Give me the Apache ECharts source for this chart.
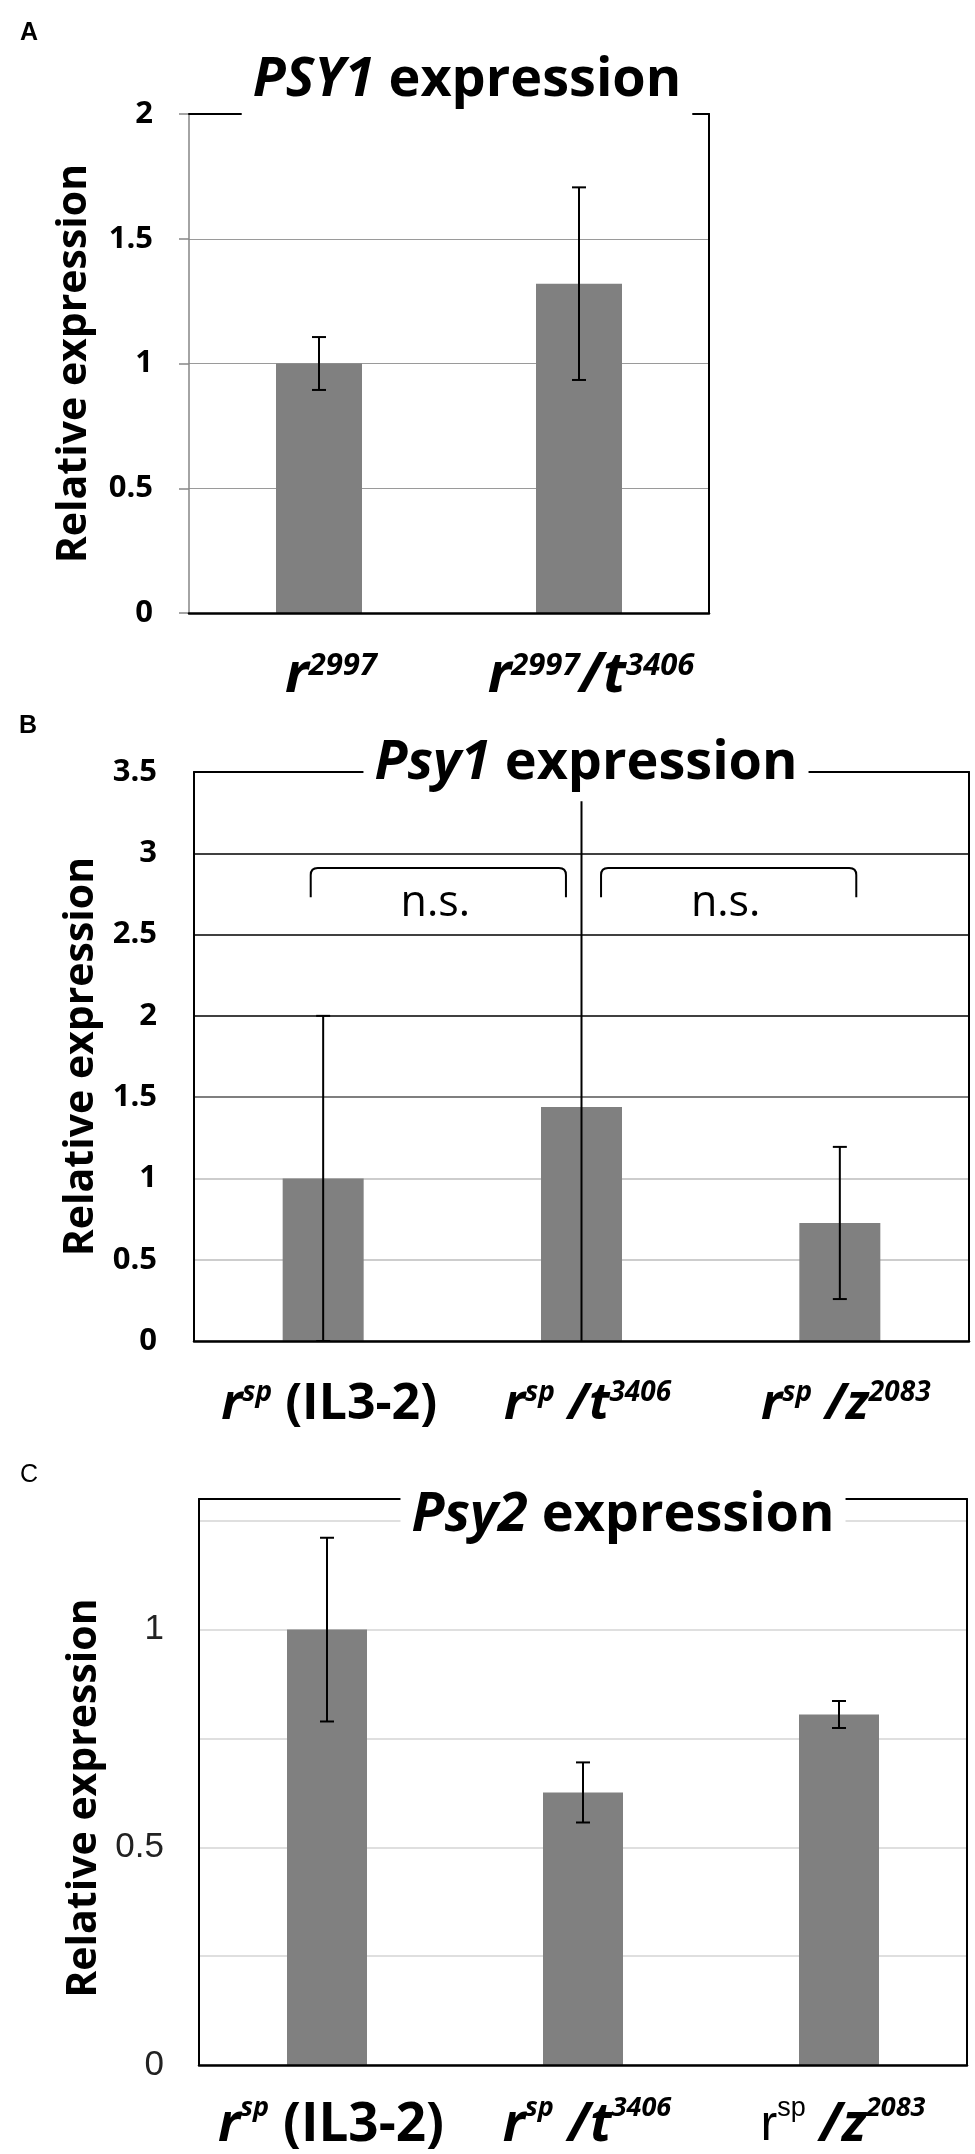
<!DOCTYPE html>
<html><head><meta charset="utf-8">
<script src="https://cdn.jsdelivr.net/npm/echarts@6/dist/echarts.min.js"></script>
<style>html,body{margin:0;padding:0;background:#fff}#c{width:975px;height:2154px}</style>
</head><body><div id="c"></div>
<script>
// ---------- Panel A data ----------
const catsA = ['r2997', 'r2997/t3406'];
const labelsA = ['{m|r}{s|2997}', '{m|r}{s|2997}{m|/t}{s|3406}'];
const meansA = [1.0, 1.32];
const errA = [0.106, 0.386];
const ticksA = [0, 0.5, 1, 1.5, 2];

// ---------- Panel B data ----------
const catsB = ['rsp (IL3-2)', 'rsp /t3406', 'rsp /z2083'];
const labelsB = ['{m|r}{s|sp}{n| (IL3-2)}', '{m|r}{s|sp}{m| /t}{s|3406}', '{m|r}{s|sp}{m| /z}{s|2083}'];
const meansB = [1.0, 1.44, 0.726];
const errB = [1.0, 1.88, 0.468];
const ticksB = [0, 0.5, 1, 1.5, 2, 2.5, 3, 3.5];
const sigPairsB = [[0, 1], [1, 2]];
const sigTopB = 2.91;
const sigLegB = 2.73;
const sigTextValB = 2.69;
const sigTextB = 'n.s.';

// ---------- Panel C data ----------
const catsC = ['rsp (IL3-2)', 'rsp /t3406', 'rsp /z2083'];
const labelsC = ['{m|r}{s|sp}{n| (IL3-2)}', '{m|r}{s|sp}{m| /t}{s|3406}', '{r|r}{rs|sp}{m| /z}{s|2083}'];
const meansC = [1.0, 0.626, 0.805];
const errC = [0.211, 0.069, 0.031];
const ticksC = [0, 0.25, 0.5, 0.75, 1, 1.25];
const labeledTicksC = [0, 0.5, 1];
const maxC = 1.3;

const yTitle = 'Relative expression';

// ---------- helpers ----------
const OS = 'Open Sans';
function richSet(F, S, L) {
  return {
    m: {fontFamily: OS, fontWeight: 'bold', fontStyle: 'italic', fontSize: F, lineHeight: L, color: '#000'},
    n: {fontFamily: OS, fontWeight: 'bold', fontStyle: 'normal', fontSize: F, lineHeight: L, color: '#000'},
    s: {fontFamily: OS, fontWeight: 'bold', fontStyle: 'italic', fontSize: S, lineHeight: S, verticalAlign: 'top', color: '#000'},
    r: {fontFamily: 'Liberation Sans', fontWeight: 'normal', fontStyle: 'normal', fontSize: F * 0.95, lineHeight: L, color: '#000'},
    rs: {fontFamily: 'Liberation Sans', fontWeight: 'normal', fontStyle: 'normal', fontSize: S, lineHeight: S, verticalAlign: 'top', color: '#000'}
  };
}
function errSeries(idx, means, errs, axisMin) {
  return {
    type: 'custom', xAxisIndex: idx, yAxisIndex: idx, z: 4,
    encode: {x: 0, y: [1, 2]},
    data: means.map((m, i) => [i, m - errs[i], m + errs[i]]),
    renderItem(params, api) {
      const i = api.value(0);
      let lo = api.value(1);
      const hi = api.value(2);
      const clipped = lo < axisMin - 1e-9;
      if (clipped) lo = axisMin;
      const pHi = api.coord([i, hi]);
      const pLo = api.coord([i, lo]);
      const st = {stroke: '#000', lineWidth: 2};
      const ch = [{type: 'line', shape: {x1: pHi[0], y1: pHi[1], x2: pLo[0], y2: pLo[1]}, style: st}];
      if (!clipped) {
        const w = 7;
        ch.push({type: 'line', shape: {x1: pHi[0] - w, y1: pHi[1], x2: pHi[0] + w, y2: pHi[1]}, style: st});
        ch.push({type: 'line', shape: {x1: pLo[0] - w, y1: pLo[1], x2: pLo[0] + w, y2: pLo[1]}, style: st});
      }
      return {type: 'group', children: ch};
    }
  };
}
function titleText(x, y, ital, rest) {
  return {
    type: 'text', x: x, y: y, z: 100,
    style: {
      text: '{i|' + ital + '}{b|' + rest + '}',
      rich: {
        i: {fontFamily: OS, fontWeight: 'bold', fontStyle: 'italic', fontSize: 54, fill: '#000'},
        b: {fontFamily: OS, fontWeight: 'bold', fontStyle: 'normal', fontSize: 54, fill: '#000'}
      },
      fontFamily: OS, fontWeight: 'bold', fontSize: 54,
      align: 'center', verticalAlign: 'middle',
      backgroundColor: '#fff', padding: [4, 11, 8, 11]
    }
  };
}
function letter(x, y, t, bold) {
  return {type: 'text', x: x, y: y, z: 100,
    style: {text: t, fontFamily: 'Liberation Sans', fontWeight: bold ? 'bold' : 'normal', fontSize: 25, fill: '#000', align: 'center', verticalAlign: 'middle'}};
}
function frameX(g, cats) {
  return {gridIndex: g, type: 'category', data: cats, position: 'top', z: 5,
    axisLine: {onZero: false, lineStyle: {color: '#000', width: 2}}, axisTick: {show: false}, axisLabel: {show: false}};
}
function frameY(g, lo, hi) {
  return {gridIndex: g, type: 'value', min: lo, max: hi, position: 'right', z: 5,
    axisLine: {show: true, onZero: false, lineStyle: {color: '#000', width: 2}}, axisTick: {show: false},
    axisLabel: {show: false}, splitLine: {show: false}};
}
const tickLabelBold = {fontFamily: OS, fontWeight: 'bold', fontSize: 31, color: '#000'};
const nameStyle = {fontFamily: OS, fontWeight: 'bold', fontSize: 41, color: '#000'};

const chart = echarts.init(document.getElementById('c'), null, {renderer: 'canvas'});
const option = {
  animation: false,
  backgroundColor: '#fff',
  grid: [
    {left: 189, top: 114, width: 520, height: 499, outerBoundsMode: 'none'},
    {left: 194, top: 772, width: 775, height: 569, outerBoundsMode: 'none'},
    {left: 199, top: 1499, width: 768, height: 566, outerBoundsMode: 'none'}
  ],
  xAxis: [
    {gridIndex: 0, type: 'category', data: catsA, z: 5,
      axisLine: {onZero: false, lineStyle: {color: '#000', width: 2.5}}, axisTick: {show: false},
      axisLabel: {margin: 38, interval: 0, padding: [0, 0, 0, 24], formatter: (v, i) => labelsA[i], rich: richSet(56, 31, 51)}},
    {gridIndex: 1, type: 'category', data: catsB, z: 5,
      axisLine: {onZero: false, lineStyle: {color: '#000', width: 2.5}}, axisTick: {show: false},
      axisLabel: {margin: 38, interval: 0, padding: [0, 0, 0, 12], formatter: (v, i) => labelsB[i], rich: richSet(50, 28, 52)}},
    {gridIndex: 2, type: 'category', data: catsC, z: 5,
      axisLine: {onZero: false, lineStyle: {color: '#000', width: 2.5}}, axisTick: {show: false},
      axisLabel: {margin: 30, interval: 0, padding: [0, 0, 0, 8], formatter: (v, i) => labelsC[i], rich: richSet(53, 27, 62)}},
    frameX(0, catsA), frameX(1, catsB), frameX(2, catsC)
  ],
  yAxis: [
    {gridIndex: 0, type: 'value', min: ticksA[0], max: ticksA[ticksA.length - 1], interval: ticksA[1] - ticksA[0], z: 1,
      name: yTitle, nameLocation: 'middle', nameGap: 94, nameTextStyle: nameStyle,
      axisLine: {show: true, onZero: false, lineStyle: {color: '#868686', width: 1.5}},
      axisTick: {show: true, inside: false, length: 10, lineStyle: {color: '#868686', width: 1.5}},
      axisLabel: Object.assign({margin: 36}, tickLabelBold),
      splitLine: {show: true, lineStyle: {color: '#9a9a9a', width: 1.2}}},
    {gridIndex: 1, type: 'value', min: ticksB[0], max: ticksB[ticksB.length - 1], interval: ticksB[1] - ticksB[0], z: 1,
      name: yTitle, nameLocation: 'middle', nameGap: 85, nameTextStyle: nameStyle,
      axisLine: {show: true, onZero: false, lineStyle: {color: '#000', width: 2}}, axisTick: {show: false},
      axisLabel: Object.assign({margin: 37}, tickLabelBold),
      splitLine: {show: true, lineStyle: {color: ['#bdbdbd', '#bdbdbd', '#bdbdbd', '#555', '#000', '#000', '#000', '#000'], width: 1.5}}},
    {gridIndex: 2, type: 'value', min: ticksC[0], max: maxC, interval: ticksC[1] - ticksC[0], z: 1,
      name: yTitle, nameLocation: 'middle', nameGap: 80, nameTextStyle: Object.assign({padding: [0, 32, 0, 0]}, nameStyle),
      axisLine: {show: true, onZero: false, lineStyle: {color: '#000', width: 2}}, axisTick: {show: false},
      axisLabel: {margin: 35, fontFamily: 'Liberation Sans', fontSize: 35, color: '#222',
        formatter: v => labeledTicksC.some(t => Math.abs(t - v) < 1e-6) ? String(v) : ''},
      splitLine: {show: true, showMaxLine: false, lineStyle: {color: '#d4d4d4', width: 1.5}}},
    frameY(0, ticksA[0], ticksA[ticksA.length - 1]),
    frameY(1, ticksB[0], ticksB[ticksB.length - 1]),
    frameY(2, ticksC[0], maxC)
  ],
  series: [
    {type: 'bar', xAxisIndex: 0, yAxisIndex: 0, data: meansA, barWidth: 86, itemStyle: {color: '#808080'}, z: 2},
    {type: 'bar', xAxisIndex: 1, yAxisIndex: 1, data: meansB, barWidth: 81, itemStyle: {color: '#808080'}, z: 2},
    {type: 'bar', xAxisIndex: 2, yAxisIndex: 2, data: meansC, barWidth: 80, itemStyle: {color: '#808080'}, z: 2},
    errSeries(0, meansA, errA, ticksA[0]),
    errSeries(1, meansB, errB, ticksB[0]),
    errSeries(2, meansC, errC, ticksC[0]),
    {
      type: 'custom', xAxisIndex: 1, yAxisIndex: 1, z: 4,
      encode: {x: 0, y: 2},
      data: sigPairsB.map(p => [p[0], p[1], sigTopB, sigLegB, sigTextValB]),
      renderItem(params, api) {
        const a = api.value(0), b = api.value(1);
        const pa = api.coord([a, api.value(2)]);
        const pb = api.coord([b, api.value(2)]);
        const yLeg = api.coord([a, api.value(3)])[1];
        const yTxt = api.coord([a, api.value(4)])[1];
        const band = api.size([1, 0])[0];
        const shift = params.dataIndex === 0 ? -14 : 18;
        const mid = (pa[0] + pb[0]) / 2 + shift;
        const half = 0.494 * band;
        const x0 = mid - half, x1 = mid + half, yt = pa[1], r = 7;
        const d = 'M' + x0 + ' ' + yLeg + ' L' + x0 + ' ' + (yt + r) + ' Q' + x0 + ' ' + yt + ' ' + (x0 + r) + ' ' + yt +
          ' L' + (x1 - r) + ' ' + yt + ' Q' + x1 + ' ' + yt + ' ' + x1 + ' ' + (yt + r) + ' L' + x1 + ' ' + yLeg;
        return {type: 'group', children: [
          {type: 'path', shape: {pathData: d}, style: {stroke: '#000', lineWidth: 2, fill: null}},
          {type: 'text', x: mid - 3, y: yTxt, style: {text: sigTextB, fontFamily: OS, fontSize: 43, fill: '#000', align: 'center', verticalAlign: 'middle'}}
        ]};
      }
    }
  ],
  graphic: [
    letter(29, 33, 'A', true),
    letter(28, 726, 'B', true),
    letter(29, 1475, 'C', false),
    titleText(467, 83, 'PSY1', ' expression'),
    titleText(586, 766, 'Psy1', ' expression'),
    titleText(623, 1518, 'Psy2', ' expression')
  ]
};
chart.setOption(option);
</script>
</body></html>
